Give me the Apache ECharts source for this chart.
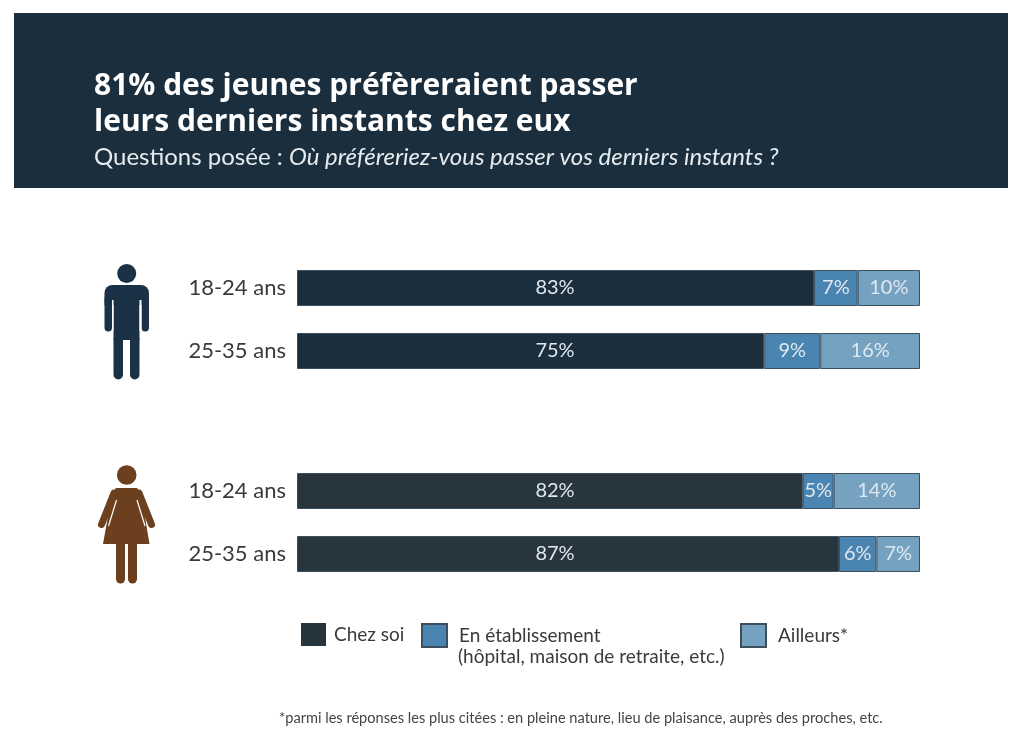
<!DOCTYPE html>
<html>
<head>
<meta charset="utf-8">
<style>html,body{margin:0;padding:0;background:#fff}#c{width:1024px;height:752px}</style>
<script src="https://cdn.jsdelivr.net/npm/echarts@6/dist/echarts.min.js"></script>
</head>
<body>
<div id="c"></div>
<script>
const titleText = "81% des jeunes préfèreraient passer\nleurs derniers instants chez eux";
const subtitleLead = "Questions posée : ";
const subtitleItalic = "Où préféreriez-vous passer vos derniers instants ?";
const footnote = "*parmi les réponses les plus citées : en pleine nature, lieu de plaisance, auprès des proches, etc.";
const ageGroups = ["18-24 ans", "25-35 ans"];
const seriesNames = ["Chez soi", "En établissement", "Ailleurs*"];
const legendSecondLine = "(hôpital, maison de retraite, etc.)";

// printed percentages, men then women; the women's 18-24 row adds up to 101
const hommesChezSoi = [83, 75];
const hommesEtablissement = [7, 9];
const hommesAilleurs = [10, 16];
const femmesChezSoi = [82, 87];
const femmesEtablissement = [5, 6];
const femmesAilleurs = [14, 7];

const FONT = "Lato, 'Open Sans', sans-serif";
const TITLEFONT = "'Open Sans', Lato, sans-serif";
const colorsTop = ["#1b2e3d", "#4a84b1", "#76a2c2"];
const colorsBottom = ["#27353e", "#4a84b1", "#76a2c2"];
const manColor = "#1b3145";
const womanColor = "#6c401e";

function makeSeries(gridIndex, groups, colors) {
  return groups.map((vals, s) => ({
    name: seriesNames[s],
    type: "bar",
    stack: "g" + gridIndex,
    xAxisIndex: gridIndex,
    yAxisIndex: gridIndex,
    barWidth: 36,
    itemStyle: { color: colors[s], borderColor: "#3d4f5c", borderWidth: 1 },
    label: Object.assign({
      show: true, color: "#dfe8ee",
      fontFamily: FONT, fontSize: 20,
      formatter: p => groups[s][p.dataIndex] + "%"
    }, s === 0
      // the first segment's labels all sit in one column in the reference
      ? { position: [258, "50%"], align: "center", verticalAlign: "middle" }
      : { position: "inside" }),
    // bar length = share of the row's printed total, so the row fills the axis
    data: vals.map((v, i) => ({
      value: v / groups.reduce((a, g) => a + g[i], 0) * 100
    }))
  }));
}

const axisPair = (top, idx) => ({
  grid: { left: 297, width: 623, top: top, height: 126 },
  x: { type: "value", min: 0, max: 100, show: false, gridIndex: idx },
  y: {
    type: "category", inverse: true, data: ageGroups, gridIndex: idx,
    axisLine: { show: false }, axisTick: { show: false },
    axisLabel: { color: "#3a3a3a", fontFamily: FONT, fontSize: 22, margin: 11 }
  }
});
const a0 = axisPair(256.5, 0), a1 = axisPair(459.5, 1);

const legendBase = {
  orient: "horizontal", icon: "rect", itemWidth: 25, itemHeight: 23, top: 618,
  textStyle: { color: "#3a3a3a", fontFamily: FONT, fontSize: 19 }
};
const legendText = (pad) => Object.assign({}, legendBase.textStyle, { padding: [0, 0, 0, pad] });

const rr = (x, y, w, h, r, fill) => ({ type: "rect", shape: { x, y, width: w, height: h, r }, style: { fill } });
const armLine = (x1, y1, x2, y2) => ({
  type: "line", shape: { x1, y1, x2, y2 },
  style: { stroke: womanColor, lineWidth: 7, lineCap: "round" }
});

const chart = echarts.init(document.getElementById("c"));
chart.setOption({
  animation: false,
  backgroundColor: "#fff",
  title: [
    {
      left: 89, top: 63, text: titleText,
      textStyle: { color: "#fff", fontFamily: TITLEFONT, fontWeight: "bold", fontSize: 30, lineHeight: 36 }
    },
    {
      left: 89, top: 140,
      text: "{r|" + subtitleLead + "}{i|" + subtitleItalic + "}",
      textStyle: {
        fontWeight: "normal",
        rich: {
          r: { color: "#e6ebee", fontFamily: FONT, fontSize: 24, fontWeight: "normal" },
          i: { color: "#e6ebee", fontFamily: FONT, fontSize: 24, fontWeight: "normal", fontStyle: "italic" }
        }
      }
    },
    {
      left: 274, top: 706, text: footnote,
      textStyle: { color: "#444", fontFamily: FONT, fontSize: 14.6, fontWeight: "normal" }
    }
  ],
  grid: [a0.grid, a1.grid],
  xAxis: [a0.x, a1.x],
  yAxis: [a0.y, a1.y],
  legend: [
    Object.assign({}, legendBase, { left: 296, data: [{ name: seriesNames[0], itemStyle: { color: "#25343d", borderWidth: 0 } }],
      textStyle: legendText(3) }),
    Object.assign({}, legendBase, { left: 416, data: [{ name: seriesNames[1] }], textStyle: legendText(7) }),
    Object.assign({}, legendBase, { left: 735, data: [{ name: seriesNames[2] }], textStyle: legendText(7) })
  ],
  graphic: [
    { type: "rect", z: -1, shape: { x: 14, y: 13, width: 994, height: 175 }, style: { fill: "#1b2e3d" } },
    // man pictogram
    { type: "circle", shape: { cx: 126.7, cy: 273.5, r: 9.5 }, style: { fill: manColor } },
    rr(104.5, 285, 44.5, 20, [8, 8, 0, 0], manColor),
    rr(104.5, 295, 7.5, 36.5, 3.7, manColor),
    rr(141.5, 295, 7.5, 36.5, 3.7, manColor),
    rr(113.5, 285, 26, 55, 0, manColor),
    rr(113.5, 335, 9.5, 44.5, 4.75, manColor),
    rr(130, 335, 9.5, 44.5, 4.75, manColor),
    { type: "rect", shape: { x: 112, y: 300, width: 1.5, height: 31 }, style: { fill: "#fff" } },
    { type: "rect", shape: { x: 139.5, y: 300, width: 2, height: 31 }, style: { fill: "#fff" } },
    // woman pictogram
    { type: "circle", shape: { cx: 126.7, cy: 475, r: 9.8 }, style: { fill: womanColor } },
    { type: "polygon", shape: { points: [[116,488],[137,488],[141,493],[143,505],[149.5,544],[103,544],[110,505],[112,493]] }, style: { fill: womanColor } },
    armLine(114, 493, 101.5, 524.5),
    armLine(139, 493, 151.5, 524.5),
    { type: "line", shape: { x1: 116.5, y1: 500, x2: 108.5, y2: 526 }, style: { stroke: "#fff", lineWidth: 1.2 } },
    { type: "line", shape: { x1: 137, y1: 500, x2: 145, y2: 526 }, style: { stroke: "#fff", lineWidth: 1.2 } },
    rr(116, 535, 9, 48.5, 4.5, womanColor),
    rr(128, 535, 9, 48.5, 4.5, womanColor),
    { type: "text", left: 458, top: 647, style: { text: legendSecondLine, fill: "#3a3a3a", font: "19px " + FONT } }
  ],
  series: [
    ...makeSeries(0, [hommesChezSoi, hommesEtablissement, hommesAilleurs], colorsTop),
    ...makeSeries(1, [femmesChezSoi, femmesEtablissement, femmesAilleurs], colorsBottom)
  ]
});
</script>
</body>
</html>
